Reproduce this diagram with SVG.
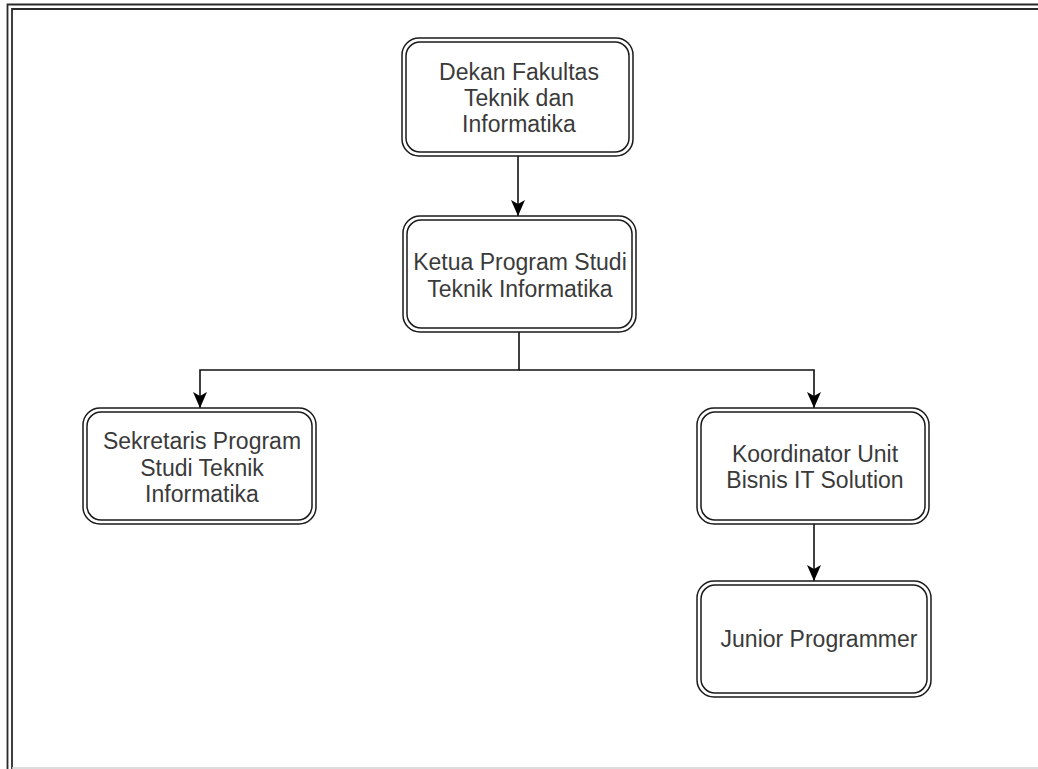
<svg xmlns="http://www.w3.org/2000/svg" width="1038" height="769" viewBox="0 0 1038 769">
  <style>
    .o { fill: #ffffff; stroke: #1a1a1a; stroke-width: 1.5; }
    .i { fill: none; stroke: #1a1a1a; stroke-width: 1.5; }
    .t { font-family: "Liberation Sans", Arial, sans-serif; font-size: 23px; fill: #3a3a3a; text-anchor: middle; }
    .c { fill: none; stroke: #111111; stroke-width: 1.6; }
    .frame { fill: none; stroke: #2a2a2a; stroke-width: 1.8; }
  </style>
  <defs>
    <marker id="arr" markerUnits="userSpaceOnUse" markerWidth="18" markerHeight="18" viewBox="0 0 18 18" refX="16" refY="9" orient="auto">
      <path d="M0,2 L16,9 L0,16 L4,9 Z" fill="#000000"/>
    </marker>
  </defs>
  <rect width="1038" height="769" fill="#ffffff"/>
  <g id="frame">
    <path class="frame" d="M7.5,769 L7.5,4.5 L1038,4.5"/>
    <path class="frame" d="M12,769 L12,9 L1038,9"/>
    <line x1="12" y1="768" x2="1038" y2="768" stroke="#d0d0d0" stroke-width="1.5"/>
  </g>
  <g id="connectors">
    <path class="c" d="M518,156 L518,216" marker-end="url(#arr)"/>
    <path class="c" d="M519,332 L519,370 L200,370 L200,408" marker-end="url(#arr)"/>
    <path class="c" d="M519,370 L814,370 L814,408" marker-end="url(#arr)"/>
    <path class="c" d="M814,524 L814,581" marker-end="url(#arr)"/>
  </g>
  <g id="dekan">
    <rect class="o" x="402" y="38" width="231" height="118" rx="17"/>
    <rect class="i" x="406" y="42" width="223" height="110" rx="14"/>
    <text class="t" x="519" y="80">Dekan Fakultas</text>
    <text class="t" x="519" y="106">Teknik dan</text>
    <text class="t" x="519" y="132">Informatika</text>
  </g>
  <g id="ketua">
    <rect class="o" x="403" y="216" width="233" height="116" rx="17"/>
    <rect class="i" x="407" y="220" width="225" height="108" rx="14"/>
    <text class="t" x="520" y="270">Ketua Program Studi</text>
    <text class="t" x="520" y="297">Teknik Informatika</text>
  </g>
  <g id="sekretaris">
    <rect class="o" x="83" y="408" width="233" height="116" rx="17"/>
    <rect class="i" x="87" y="412" width="225" height="108" rx="14"/>
    <text class="t" x="202" y="449">Sekretaris Program</text>
    <text class="t" x="202" y="476">Studi Teknik</text>
    <text class="t" x="202" y="502">Informatika</text>
  </g>
  <g id="koordinator">
    <rect class="o" x="697" y="408" width="232" height="116" rx="17"/>
    <rect class="i" x="701" y="412" width="224" height="108" rx="14"/>
    <text class="t" x="815" y="462">Koordinator Unit</text>
    <text class="t" x="815" y="488">Bisnis IT Solution</text>
  </g>
  <g id="junior">
    <rect class="o" x="697" y="581" width="234" height="116" rx="17"/>
    <rect class="i" x="701" y="585" width="226" height="108" rx="14"/>
    <text class="t" x="819" y="647">Junior Programmer</text>
  </g>
</svg>
